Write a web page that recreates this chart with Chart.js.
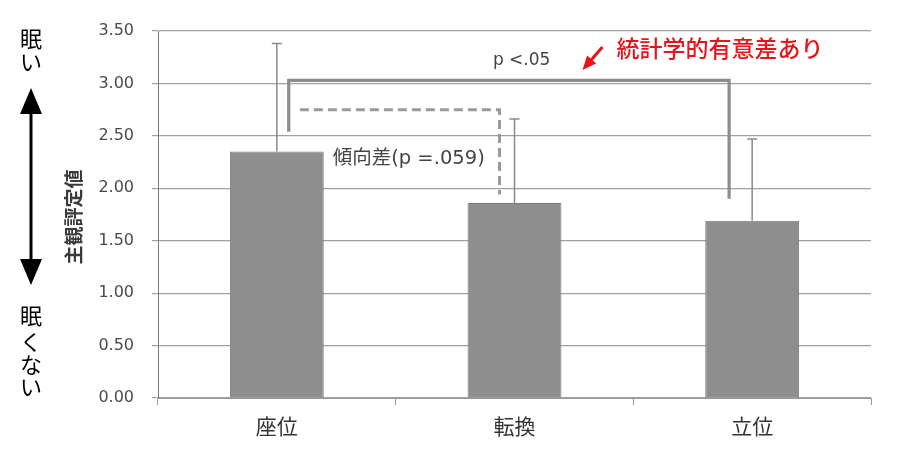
<!DOCTYPE html>
<html><head><meta charset="utf-8">
<script src="https://cdn.jsdelivr.net/npm/chart.js@4/dist/chart.umd.min.js"></script>
<style>html,body{margin:0;padding:0;background:#fff}#wrap{width:900px;height:461px}</style>
</head><body><div id="wrap"><canvas id="c" width="900" height="461"></canvas></div>
<script>
const categories = ['座位', '転換', '立位'];
const means = [2.35, 1.86, 1.69];
const errors = [1.03, 0.80, 0.78];
const yTicks = [0, 0.5, 1, 1.5, 2, 2.5, 3, 3.5];
const yTitle = '主観評定値';
// significance brackets (x in category index units, y in value units)
const sigBracket = { x1: 0.05, x2: 1.903, yTop: 3.03, yLeft: 2.54, yRight: 1.90, label: 'p <.05', labelX: 1.03, labelY: 3.22 };
const trendBracket = { x1: 0.097, x2: 0.937, yTop: 2.75, yRight: 1.94, label: '傾向差(p =.059)', labelX: 0.235, labelY: 2.28 };
const noteText = '統計学的有意差あり';
const noteX = 1.429, noteY = 3.34;
const noteArrow = { x1: 1.37, y1: 3.347, x2: 1.286, y2: 3.128 };
const sideTop = ['眠', 'い'];
const sideBottom = ['眠', 'く', 'な', 'い'];

const JP = '"Noto Sans CJK JP", "Noto Sans", sans-serif';

const overlay = {
  id: 'overlay',
  afterDatasetsDraw(chart) {
    const ctx = chart.ctx, xs = chart.scales.x, ys = chart.scales.y;
    const X = v => xs.getPixelForValue(v), Y = v => ys.getPixelForValue(v);
    ctx.save();
    // error bars (upward only)
    ctx.strokeStyle = '#8a8a8a'; ctx.lineWidth = 1.5;
    means.forEach((m, i) => {
      const x = X(i), y0 = Y(m), y1 = Y(m + errors[i]);
      ctx.beginPath(); ctx.moveTo(x, y0); ctx.lineTo(x, y1);
      ctx.moveTo(x - 5, y1); ctx.lineTo(x + 5, y1); ctx.stroke();
    });
    // solid bracket
    ctx.strokeStyle = '#8c8c8c'; ctx.lineWidth = 3.2; ctx.lineJoin = 'miter';
    ctx.beginPath();
    ctx.moveTo(X(sigBracket.x1), Y(sigBracket.yLeft));
    ctx.lineTo(X(sigBracket.x1), Y(sigBracket.yTop));
    ctx.lineTo(X(sigBracket.x2), Y(sigBracket.yTop));
    ctx.lineTo(X(sigBracket.x2), Y(sigBracket.yRight));
    ctx.stroke();
    // dashed bracket
    ctx.strokeStyle = '#9a9a9a'; ctx.lineWidth = 3; ctx.setLineDash([9, 5]);
    ctx.beginPath();
    ctx.moveTo(X(trendBracket.x1), Y(trendBracket.yTop));
    ctx.lineTo(X(trendBracket.x2), Y(trendBracket.yTop));
    ctx.lineTo(X(trendBracket.x2), Y(trendBracket.yRight));
    ctx.stroke();
    ctx.setLineDash([]);
    // labels
    ctx.fillStyle = '#444';
    ctx.font = '17px "DejaVu Sans", sans-serif';
    ctx.textAlign = 'center'; ctx.textBaseline = 'middle';
    ctx.fillText(sigBracket.label, X(sigBracket.labelX), Y(sigBracket.labelY));
    ctx.font = '19.5px "DejaVu Sans", ' + JP;
    ctx.textAlign = 'left';
    ctx.fillText(trendBracket.label, X(trendBracket.labelX), Y(trendBracket.labelY));
    // red note
    ctx.fillStyle = '#e8141c';
    ctx.font = '500 23px ' + JP;
    ctx.textAlign = 'left';
    ctx.fillText(noteText, X(noteX), Y(noteY));
    // red arrow
    const ax1 = X(noteArrow.x1), ay1 = Y(noteArrow.y1), ax2 = X(noteArrow.x2), ay2 = Y(noteArrow.y2);
    const ang = Math.atan2(ay2 - ay1, ax2 - ax1);
    ctx.strokeStyle = '#e8141c'; ctx.lineWidth = 3;
    ctx.beginPath(); ctx.moveTo(ax1, ay1);
    ctx.lineTo(ax2 - 10 * Math.cos(ang), ay2 - 10 * Math.sin(ang)); ctx.stroke();
    ctx.beginPath();
    ctx.moveTo(ax2, ay2);
    ctx.lineTo(ax2 - 14 * Math.cos(ang) + 6 * Math.sin(ang), ay2 - 14 * Math.sin(ang) - 6 * Math.cos(ang));
    ctx.lineTo(ax2 - 14 * Math.cos(ang) - 6 * Math.sin(ang), ay2 - 14 * Math.sin(ang) + 6 * Math.cos(ang));
    ctx.closePath(); ctx.fill();
    ctx.restore();
  },
  afterDraw(chart) {
    const ctx = chart.ctx;
    ctx.save();
    // y-axis title
    ctx.fillStyle = '#3a3a3a';
    ctx.font = 'bold 19px ' + JP;
    ctx.textAlign = 'center'; ctx.textBaseline = 'middle';
    ctx.translate(74, 217); ctx.rotate(-Math.PI / 2);
    ctx.fillText(yTitle, 0, 0);
    ctx.setTransform(1, 0, 0, 1, 0, 0);
    const dpr = chart.currentDevicePixelRatio || 1;
    ctx.scale(dpr, dpr);
    // side labels and double arrow
    ctx.fillStyle = '#000';
    ctx.font = '22px ' + JP;
    sideTop.forEach((t, i) => ctx.fillText(t, 31, 39 + i * 23));
    const bottomY = [316, 342, 365, 387];
    sideBottom.forEach((t, i) => ctx.fillText(t, 31, bottomY[i]));
    ctx.strokeStyle = '#000'; ctx.lineWidth = 3;
    ctx.beginPath(); ctx.moveTo(31, 105); ctx.lineTo(31, 268); ctx.stroke();
    ctx.beginPath(); ctx.moveTo(31, 88); ctx.lineTo(20, 114); ctx.lineTo(42, 114); ctx.closePath(); ctx.fill();
    ctx.beginPath(); ctx.moveTo(31, 285); ctx.lineTo(20, 259); ctx.lineTo(42, 259); ctx.closePath(); ctx.fill();
    ctx.restore();
  }
};

new Chart(document.getElementById('c'), {
  type: 'bar',
  data: {
    labels: categories,
    datasets: [{
      data: means,
      backgroundColor: '#8e8e8e',
      borderColor: '#7c7c7c',
      borderWidth: 1,
      categoryPercentage: 1,
      barPercentage: 0.395
    }]
  },
  options: {
    responsive: false,
    animation: false,
    devicePixelRatio: 1,
    layout: { padding: { top: 31, right: 29, bottom: 0, left: 0 } },
    plugins: { legend: { display: false }, tooltip: { enabled: false } },
    scales: {
      x: {
        grid: { display: true, drawOnChartArea: false, drawTicks: true, tickLength: 7, color: '#999', offset: true },
        border: { display: true, color: '#999', width: 1 },
        ticks: { color: '#333', font: { family: JP, size: 21 }, padding: 8 },
        afterFit(s) { s.height = 63; }
      },
      y: {
        min: 0, max: 3.5,
        afterBuildTicks(s) { s.ticks = yTicks.map(v => ({ value: v })); },
        grid: { color: '#a0a0a0', lineWidth: 1.2, tickLength: 6, drawTicks: true },
        border: { display: true, color: '#777', width: 1 },
        ticks: { color: '#4a4a4a', font: { family: '"DejaVu Sans", sans-serif', size: 16 }, padding: 18,
                 callback: v => Number(v).toFixed(2) },
        afterFit(s) { s.width = 158; }
      }
    }
  },
  plugins: [overlay]
});
</script></body></html>
